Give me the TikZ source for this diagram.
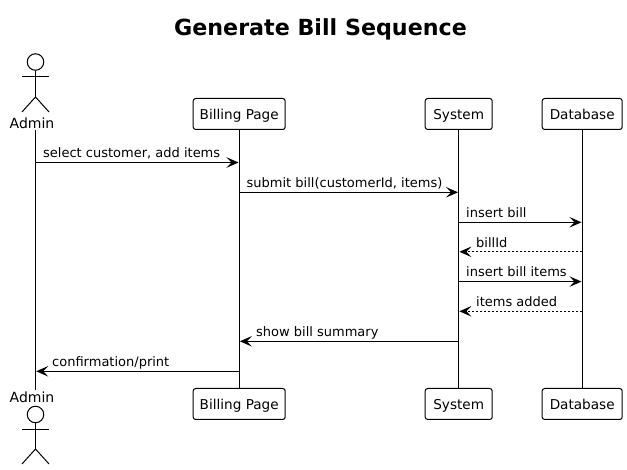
\documentclass[tikz,border=0pt]{standalone}
\usepackage{fontspec}
\setmainfont{DejaVu Sans}
\usetikzlibrary{arrows.meta}
\tikzset{
  part/.style={draw=black,fill=white,line width=1pt,rounded corners=2.5pt,inner sep=0pt,minimum height=31pt,text depth=0pt,font=\fontsize{13.6}{15}\selectfont},
  life/.style={line width=1pt,black},
  act/.style={line width=1pt,black},
  actname/.style={inner sep=0pt,anchor=base,font=\fontsize{14}{16}\selectfont},
  head/.style={draw=black,fill=white,line width=1pt,circle,inner sep=0pt,minimum size=16.5pt},
  msg/.style={line width=1pt,shorten >=0.7pt,-{Stealth[length=12pt,width=10.5pt,inset=5pt]}},
  ret/.style={msg,dash pattern=on 2pt off 2pt},
  lbl/.style={inner sep=0pt,anchor=base west,font=\fontsize{13}{15}\selectfont},
}
\begin{document}
\begin{tikzpicture}[x=1pt,y=-1pt]
\useasboundingbox (0,0) rectangle (627,470);
\fill[white] (0,0) rectangle (627,470);
\node[inner sep=0pt,font=\fontsize{22.2}{26}\selectfont\bfseries] (title) at (320.5,29.5) {Generate Bill Sequence};

% participants
\node[part,minimum width=92pt] (bt) at (239.2,114) {Billing Page};
\node[part,minimum width=67pt] (st) at (458.7,114) {System};
\node[part,minimum width=80pt] (dt) at (582.2,114) {Database};
\node[part,minimum width=92pt] (bb) at (239.2,404) {Billing Page};
\node[part,minimum width=67pt] (sb) at (458.7,404) {System};
\node[part,minimum width=80pt] (db) at (582.2,404) {Database};
\coordinate (at) at (35.5,130);
\coordinate (ab) at (35.5,390);

% lifelines
\draw[life] (at) -- (ab);
\draw[life] (bt.south) -- (bb.north);
\draw[life] (st.south) -- (sb.north);
\draw[life] (dt.south) -- (db.north);

% top actor
\node[head] (h1) at (35.5,62) {};
\coordinate (n1) at (35.5,97);
\coordinate (sl1) at (22,77);
\coordinate (sr1) at (49,77);
\coordinate (fl1) at (22,112);
\coordinate (fr1) at (49,112);
\draw[act] (h1.south) -- (n1);
\draw[act] (sl1) -- (sr1);
\draw[act] (fl1) -- (n1) -- (fr1);
\node[actname] (a1) at (32,128.8) {Admin};

% bottom actor
\node[actname] (a2) at (32,402.8) {Admin};
\node[head] (h2) at (35.5,414.5) {};
\coordinate (n2) at (35.5,449);
\coordinate (sl2) at (22,430);
\coordinate (sr2) at (49,430);
\coordinate (fl2) at (22,464);
\coordinate (fr2) at (49,464);
\draw[act] (h2.south) -- (n2);
\draw[act] (sl2) -- (sr2);
\draw[act] (fl2) -- (n2) -- (fr2);

% messages
\draw[msg] (at |- 0,162.5) -- (bt |- 0,162.5);
\node[lbl] (m1) at (43,158) {select customer, add items};
\draw[msg] (bt |- 0,192.3) -- (st |- 0,192.3);
\node[lbl] (m2) at (246.5,188) {submit bill(customerId, items)};
\draw[msg] (st |- 0,222.3) -- (dt |- 0,222.3);
\node[lbl] (m3) at (466,217.5) {insert bill};
\draw[ret] (dt |- 0,251.8) -- (st |- 0,251.8);
\node[lbl] (m4) at (476,247.5) {billId};
\draw[msg] (st |- 0,281.6) -- (dt |- 0,281.6);
\node[lbl] (m5) at (466,277) {insert bill items};
\draw[ret] (dt |- 0,311.3) -- (st |- 0,311.3);
\node[lbl] (m6) at (476,307) {items added};
\draw[msg] (st |- 0,341.3) -- (bt |- 0,341.3);
\node[lbl] (m7) at (256,337) {show bill summary};
\draw[msg] (bt |- 0,371.3) -- (at |- 0,371.3);
\node[lbl] (m8) at (52,366.5) {confirmation/print};
\end{tikzpicture}
\end{document}
